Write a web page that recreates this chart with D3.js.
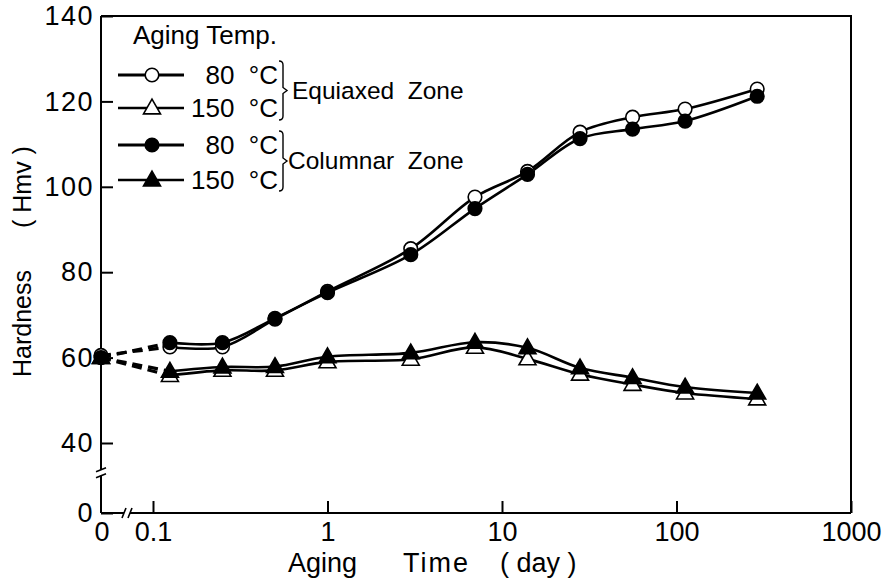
<!DOCTYPE html>
<html>
<script src="https://d3js.org/d3.v7.min.js"></script>
<style>
    body { margin: 0; background: #fff; }
    text { font-family: "Liberation Sans", Arial, sans-serif; fill: #000; }
    .domain { stroke: #000; stroke-width: 2px; }
    .tick line { stroke: #000; stroke-width: 2px; }
    .tick text { font-size: 27px; font-family: "Liberation Sans", Arial, sans-serif; }
    .yax .tick text { letter-spacing: 1.5px; }
</style>
<body></body>
<script>
    // aging time in days (0 = as-quenched, drawn at the axis origin)
    const days = [0.125, 0.25, 0.5, 1, 3, 7, 14, 28, 56, 112, 290];
    const eq80 = [62.5, 62.5, 69, 75.5, 85.5, 97.6, 103.6, 112.8, 116.3, 118.2, 122.9];
    const col80 = [63.5, 63.5, 69.2, 75.2, 84.1, 94.9, 102.9, 111.3, 113.5, 115.4, 121.2];
    const eq150 = [55.8, 57.0, 57.0, 59.0, 59.6, 62.4, 59.7, 56.1, 53.7, 51.7, 50.3];
    const col150 = [56.8, 57.8, 57.9, 60.2, 61.1, 63.6, 62.3, 57.6, 55.3, 53.1, 51.7];
    const start = { eq80: 60.5, col80: 60, eq150: 60, col150: 60 };
    const yTicks = [0, 40, 60, 80, 100, 120, 140];
    const xTicks = [0.1, 1, 10, 100, 1000];

    const width = 892, height = 582;
    const mLeft = 101, mRight = 851, mTop = 16, mBottom = 513;

    const svg = d3.select("body").append("svg").attr("width", width).attr("height", height);

    const x = d3.scaleLog().domain([0.1, 1000]).range([153, mRight]);
    const y = d3.scaleLinear().domain([0, 40, 140]).range([mBottom, 443, mTop]);
    const px = d => d === 0 ? mLeft : x(d);

    // frame (top + right)
    svg.append("path")
        .attr("d", `M${mLeft},${mTop}H${mRight}V${mBottom}`)
        .attr("fill", "none").attr("stroke", "#000").attr("stroke-width", 2);

    svg.append("g")
        .attr("transform", `translate(0,${mBottom})`)
        .call(d3.axisBottom(x).tickValues(xTicks).tickSize(-12).tickSizeOuter(0).tickPadding(9)
            .tickFormat(d3.format("~g")))
        .call(g => g.select(".domain").attr("d", `M${mLeft},0H${mRight}`));
    svg.append("g")
        .attr("class", "yax")
        .attr("transform", `translate(${mLeft},0)`)
        .call(d3.axisLeft(y).tickValues(yTicks).tickSize(-12).tickSizeOuter(0).tickPadding(7))
        .call(g => g.select(".domain").attr("d", `M0,${mTop}V${mBottom}`));

    // "0" on time axis
    svg.append("text").attr("x", mLeft + 1).attr("y", mBottom + 9).attr("dy", "0.71em")
        .attr("text-anchor", "middle").attr("font-size", 27).text("0");

    // axis breaks
    const brk = svg.append("g").attr("stroke", "#000").attr("stroke-width", 1.6).attr("fill", "none");
    const yb = y(23);
    brk.append("rect").attr("x", mLeft - 3).attr("y", yb - 3).attr("width", 6).attr("height", 6)
        .attr("fill", "#fff").attr("stroke", "none");
    brk.append("path").attr("d", `M${mLeft - 5},${yb - 1}L${mLeft + 5},${yb - 5}M${mLeft - 5},${yb + 5}L${mLeft + 5},${yb + 1}`);
    const xb = 127;
    brk.append("rect").attr("x", xb - 3).attr("y", mBottom - 3).attr("width", 6).attr("height", 6)
        .attr("fill", "#fff").attr("stroke", "none");
    brk.append("path").attr("d", `M${xb - 5},${mBottom + 5}L${xb - 1},${mBottom - 5}M${xb + 1},${mBottom + 5}L${xb + 5},${mBottom - 5}`);

    const series = [
        { key: "eq80", vals: eq80, sym: "circle", fill: "#fff" },
        { key: "col80", vals: col80, sym: "circle", fill: "#000" },
        { key: "eq150", vals: eq150, sym: "triangle", fill: "#fff" },
        { key: "col150", vals: col150, sym: "triangle", fill: "#000" }
    ];

    const line = d3.line().x(d => px(d[0])).y(d => y(d[1])).curve(d3.curveCatmullRom.alpha(0.5));
    const sym = {
        circle: d3.symbol(d3.symbolCircle, 145),
        triangle: d3.symbol(d3.symbolTriangle, 125)
    };

    series.forEach(s => {
        const pts = days.map((d, i) => [d, s.vals[i]]);
        svg.append("path")
            .attr("d", line([[0, start[s.key]], pts[0]]))
            .attr("fill", "none").attr("stroke", "#000").attr("stroke-width", 3.2)
            .attr("stroke-dasharray", "10,6");
        svg.append("path")
            .attr("d", line(pts))
            .attr("fill", "none").attr("stroke", "#000").attr("stroke-width", 2.6);
    });

    const order = [series[2], series[3], series[0], series[1]];
    order.forEach(s => {
        const pts = [[0, start[s.key]]].concat(days.map((d, i) => [d, s.vals[i]]));
        svg.append("g").selectAll("path")
            .data(pts)
            .join("path")
            .attr("transform", d => `translate(${px(d[0])},${y(d[1]) + (s.sym === "triangle" ? 1 : 0)})`)
            .attr("d", sym[s.sym]())
            .attr("fill", s.fill).attr("stroke", "#000").attr("stroke-width", 1.6);
    });

    // legend
    const lg = svg.append("g");
    lg.append("text").attr("x", 133).attr("y", 44).attr("font-size", 26).text("Aging Temp.");
    const rows = [
        { s: series[0], label: "80 °C", y: 75, w: 3 },
        { s: series[2], label: "150 °C", y: 108, w: 2.4 },
        { s: series[1], label: "80 °C", y: 145, w: 3 },
        { s: series[3], label: "150 °C", y: 180, w: 2.4 }
    ];
    rows.forEach(r => {
        lg.append("line").attr("x1", 118).attr("x2", 184).attr("y1", r.y).attr("y2", r.y)
            .attr("stroke", "#000").attr("stroke-width", r.w);
        lg.append("path").attr("transform", `translate(152,${r.y + (r.s.sym === "triangle" ? 1 : 0)})`)
            .attr("d", sym[r.s.sym]())
            .attr("fill", r.s.fill).attr("stroke", "#000").attr("stroke-width", 1.6);
        lg.append("text").attr("x", 278).attr("y", r.y).attr("dy", "0.36em")
            .attr("text-anchor", "end").attr("font-size", 26).attr("style", "white-space: pre")
            .text(r.label.replace(" ", "  "));
    });
    const brace = (y0, y1) => {
        const m = (y0 + y1) / 2;
        return `M279,${y0}Q283,${y0} 283,${y0 + 4}V${m - 3}L287,${m}L283,${m + 3}V${y1 - 4}Q283,${y1} 279,${y1}`;
    };
    lg.append("path").attr("d", brace(61, 120)).attr("fill", "none").attr("stroke", "#000").attr("stroke-width", 1.4);
    lg.append("path").attr("d", brace(131, 191)).attr("fill", "none").attr("stroke", "#000").attr("stroke-width", 1.4);
    lg.append("text").attr("x", 292).attr("y", 90).attr("dy", "0.36em").attr("font-size", 24.5)
        .attr("style", "white-space: pre").text("Equiaxed  Zone");
    lg.append("text").attr("x", 288).attr("y", 160).attr("dy", "0.36em").attr("font-size", 24.5)
        .attr("style", "white-space: pre").text("Columnar  Zone");

    // axis titles
    svg.append("text").attr("transform", "translate(31,377) rotate(-90)")
        .attr("font-size", 25).text("Hardness");
    svg.append("text").attr("transform", "translate(31,228) rotate(-90)")
        .attr("font-size", 25).attr("style", "white-space: pre").text("( Hmv )");
    const xt = svg.append("g").attr("font-size", 27);
    xt.append("text").attr("x", 288).attr("y", 572).text("Aging");
    xt.append("text").attr("x", 403).attr("y", 572).attr("letter-spacing", 2).text("Time");
    xt.append("text").attr("x", 500).attr("y", 572).attr("style", "white-space: pre").text("( day )");
</script>
</html>
